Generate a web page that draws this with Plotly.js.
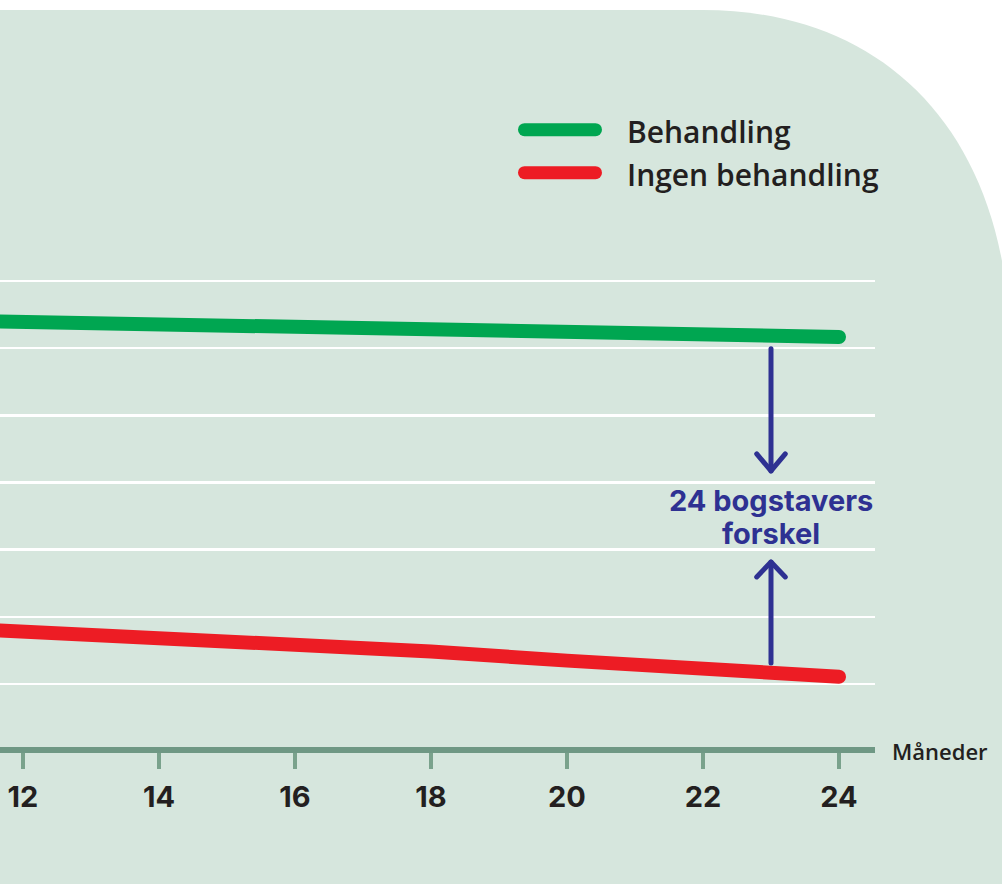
<!DOCTYPE html>
<html>
<head>
<meta charset="utf-8">
<script src="https://cdn.plot.ly/plotly-3.0.1.min.js"></script>
<style>
  html, body { margin: 0; padding: 0; background: #ffffff; }
  #chart { width: 1002px; height: 884px; }
  .shapelayer path { stroke-linecap: round; stroke-linejoin: round; }
  .scatterlayer .js-line { stroke-linecap: round; stroke-linejoin: round; }
</style>
</head>
<body>
<div id="chart"></div>
<script>
// ---- data ----
const months = [6, 12, 18, 20, 22, 24];
const behandling = [32.52, 31.97, 31.42, 31.22, 31.03, 30.84];
const ingenBehandling = [10.39, 8.94, 7.42, 6.74, 6.06, 5.54];
const seriesNames = ["Behandling", "Ingen behandling"];
const xTickVals = [12, 14, 16, 18, 20, 22, 24];
const xTickText = ["12", "14", "16", "18", "20", "22", "24"];
const gridVals = [5, 10, 15, 20, 25, 30, 35];
const xAxisLabel = "Måneder";
const diffLines = ["24 bogstavers", "forskel"];
const arrowMonth = 23;

// ---- styling ----
const W = 1002, H = 884;
const M = { l: 0, r: 127, t: 211, b: 137 };
const PW = W - M.l - M.r, PH = H - M.t - M.b;
const GREEN = "#00a651", RED = "#ed1c24", BLUE = "#2e3192";
const BG = "#d6e6dd", AXIS = "#6f9884", TEXT = "#231f20";
const LABEL_FONT = "Open Sans, DejaVu Sans, sans-serif";
const BOLD_FONT = "Inter, Roboto, sans-serif";

// pixel -> paper helpers for decorative shapes
const px = x => (x - M.l) / PW;
const py = y => (H - M.b - y) / PH;

const bgPath =
  `M${px(-20)},${py(10)} L${px(703)},${py(10)} ` +
  `C${px(875)},${py(10)} ${px(1000)},${py(120)} ${px(1010)},${py(330)} ` +
  `L${px(1010)},${py(900)} L${px(-20)},${py(900)} Z`;

const traces = [
  { x: months, y: behandling, name: seriesNames[0], mode: "lines",
    line: { color: GREEN, width: 14 }, hoverinfo: "skip", showlegend: false },
  { x: months, y: ingenBehandling, name: seriesNames[1], mode: "lines",
    line: { color: RED, width: 14 }, hoverinfo: "skip", showlegend: false }
];

const arrowTop = { y0: 29.95, tip: 20.86, wing: 22.13 };
const arrowBot = { y0: 6.56, tip: 14.08, wing: 12.97 };
const wingDx = 0.21;

const shapes = [
  { type: "path", xref: "paper", yref: "paper", layer: "below", path: bgPath,
    fillcolor: BG, line: { width: 0 } },
  // legend samples
  { type: "line", xref: "paper", yref: "paper", x0: px(524.5), x1: px(595.5),
    y0: py(129.7), y1: py(129.7), line: { color: GREEN, width: 13 } },
  { type: "line", xref: "paper", yref: "paper", x0: px(524.5), x1: px(595.5),
    y0: py(172.7), y1: py(172.7), line: { color: RED, width: 13 } },
  // difference arrows
  { type: "line", xref: "x", yref: "y", x0: arrowMonth, x1: arrowMonth,
    y0: arrowTop.y0, y1: arrowTop.tip, line: { color: BLUE, width: 5 } },
  { type: "path", xref: "x", yref: "y",
    path: `M${arrowMonth - wingDx},${arrowTop.wing} L${arrowMonth},${arrowTop.tip} L${arrowMonth + wingDx},${arrowTop.wing}`,
    line: { color: BLUE, width: 5 } },
  { type: "line", xref: "x", yref: "y", x0: arrowMonth, x1: arrowMonth,
    y0: arrowBot.y0, y1: arrowBot.tip, line: { color: BLUE, width: 5 } },
  { type: "path", xref: "x", yref: "y",
    path: `M${arrowMonth - wingDx},${arrowBot.wing} L${arrowMonth},${arrowBot.tip} L${arrowMonth + wingDx},${arrowBot.wing}`,
    line: { color: BLUE, width: 5 } }
];

const annotations = [
  { xref: "paper", yref: "paper", x: px(625), y: py(131), xanchor: "left", yanchor: "middle",
    text: seriesNames[0], showarrow: false,
    font: { family: LABEL_FONT, size: 30, color: TEXT, weight: 600 } },
  { xref: "paper", yref: "paper", x: px(625), y: py(174), xanchor: "left", yanchor: "middle",
    text: seriesNames[1], showarrow: false,
    font: { family: LABEL_FONT, size: 30, color: TEXT, weight: 600 } },
  { xref: "paper", yref: "paper", x: px(890), y: py(751), xanchor: "left", yanchor: "middle",
    text: xAxisLabel, showarrow: false,
    font: { family: LABEL_FONT, size: 22, color: TEXT, weight: 600 } },
  { xref: "x", yref: "paper", x: arrowMonth, y: py(500), xanchor: "center", yanchor: "middle",
    text: diffLines[0], showarrow: false,
    font: { family: BOLD_FONT, size: 29, color: BLUE, weight: 700 } },
  { xref: "x", yref: "paper", x: arrowMonth, y: py(533), xanchor: "center", yanchor: "middle",
    text: diffLines[1], showarrow: false,
    font: { family: BOLD_FONT, size: 29, color: BLUE, weight: 700 } }
];

const yMin = 0.31, pxPerUnit = 13.433;
const layout = {
  width: W, height: H,
  margin: M,
  paper_bgcolor: "#ffffff",
  plot_bgcolor: "rgba(0,0,0,0)",
  showlegend: false,
  xaxis: {
    range: [12 - 23 / 68, 24.5294],
    tickvals: xTickVals, ticktext: xTickText,
    showgrid: false, zeroline: false,
    showline: true, linecolor: AXIS, linewidth: 6,
    ticks: "outside", ticklen: 16, tickwidth: 3.5, tickcolor: "#7aa28c",
    ticklabelstandoff: 3,
    tickfont: { family: BOLD_FONT, size: 29, color: TEXT, weight: 700 },
    fixedrange: true
  },
  yaxis: {
    range: [yMin, yMin + PH / pxPerUnit],
    tickvals: gridVals, showticklabels: false,
    showgrid: true, gridcolor: "#ffffff", gridwidth: 2.6,
    zeroline: false, showline: false, ticks: "",
    fixedrange: true
  },
  shapes: shapes,
  annotations: annotations
};

Plotly.newPlot("chart", traces, layout, { staticPlot: true, displayModeBar: false });
</script>
</body>
</html>
